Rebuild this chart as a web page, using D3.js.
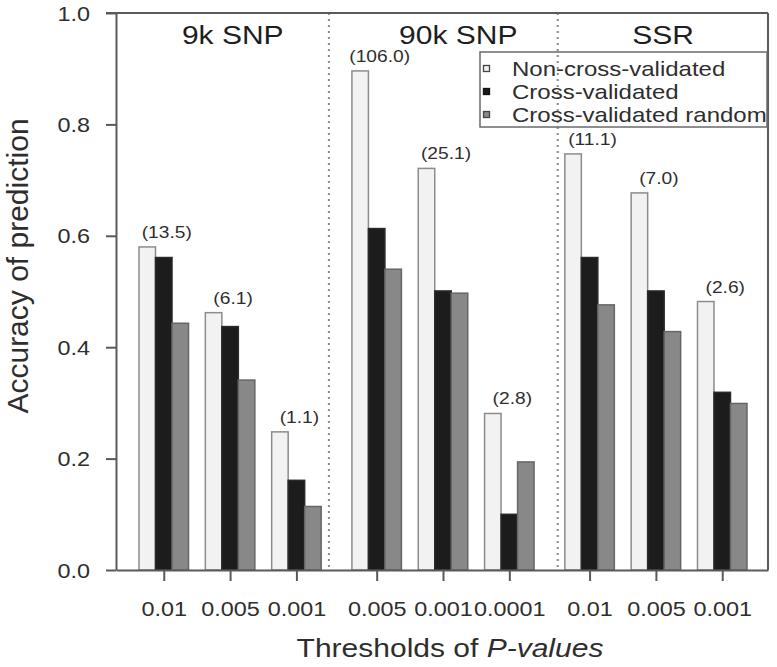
<!DOCTYPE html>
<html>
<head>
<meta charset="utf-8">
<script src="https://cdn.jsdelivr.net/npm/d3@7"></script>
<style>
  html, body { margin: 0; padding: 0; background: #ffffff; }
  svg { display: block; font-family: "Liberation Sans", Arial, sans-serif; }
</style>
</head>
<body>
<svg id="chart" width="777" height="667"></svg>
<script>
// ---------------- data ----------------
const groups = ["9k SNP", "90k SNP", "SSR"];
const thresholds = ["0.01", "0.005", "0.001", "0.005", "0.001", "0.0001", "0.01", "0.005", "0.001"];
const groupOf = [0, 0, 0, 1, 1, 1, 2, 2, 2];
const nonCrossValidated = [0.580, 0.462, 0.248, 0.896, 0.721, 0.281, 0.747, 0.677, 0.482];
const crossValidated = [0.561, 0.437, 0.161, 0.613, 0.501, 0.100, 0.561, 0.501, 0.319];
const crossValidatedRandom = [0.443, 0.341, 0.114, 0.540, 0.497, 0.194, 0.476, 0.428, 0.299];
const markerCounts = ["(13.5)", "(6.1)", "(1.1)", "(106.0)", "(25.1)", "(2.8)", "(11.1)", "(7.0)", "(2.6)"];
const seriesNames = ["Non-cross-validated", "Cross-validated", "Cross-validated random"];
const yTicks = [0.0, 0.2, 0.4, 0.6, 0.8, 1.0];

// ---------------- layout ----------------
const svg = d3.select("#chart");
const pLeft = 116, pRight = 768, pTop = 13, pBottom = 570;
const groupGap = 0.21;
const slot = thresholds.map((d, i) => i + groupOf[i] * groupGap);
const x = d3.scaleLinear().domain([-0.72, 9.11]).range([pLeft, pRight]);
const y = d3.scaleLinear().domain([0, 1]).range([pBottom, pTop]);
const barW = 16.5;
const stretch = 1.2;
const textColor = "#2e2e2e";
const axisColor = "#5a5a5a";

const series = [
  { values: nonCrossValidated, fill: "#f2f2f2", stroke: "#8c8c8c", offset: -1, mark: "#444" },
  { values: crossValidated, fill: "#1c1c1c", stroke: "#2a2a2a", offset: 0, mark: "#111" },
  { values: crossValidatedRandom, fill: "#888888", stroke: "#666666", offset: 1, mark: "#444" }
];

// dotted dividers between panels
const dividerSlots = [2.49, 5.94];
svg.selectAll("line.divider").data(dividerSlots).enter().append("line")
  .attr("class", "divider")
  .attr("x1", d => x(d)).attr("x2", d => x(d))
  .attr("y1", pTop).attr("y2", pBottom)
  .attr("stroke", "#8a8a8a").attr("stroke-width", 2)
  .attr("stroke-dasharray", "2,4");

// bars
series.forEach(s => {
  svg.append("g").selectAll("rect").data(s.values).enter().append("rect")
    .attr("x", (d, i) => x(slot[i]) + s.offset * barW - barW / 2)
    .attr("y", d => y(d))
    .attr("width", barW)
    .attr("height", d => y(0) - y(d))
    .attr("fill", s.fill)
    .attr("stroke", s.stroke)
    .attr("stroke-width", 1.5);
});

// count labels above white bars
svg.append("g").selectAll("text").data(markerCounts).enter().append("text")
  .attr("transform", (d, i) => `translate(${x(slot[i]) + 3},${y(nonCrossValidated[i]) - 9}) scale(${stretch},1)`)
  .attr("text-anchor", "middle")
  .attr("font-size", 16)
  .attr("fill", textColor)
  .text(d => d);

// y axis
const yAxis = svg.append("g")
  .attr("transform", `translate(${pLeft},0)`)
  .call(d3.axisLeft(y).tickValues(yTicks).tickFormat(d3.format(".1f")).tickSize(10).tickSizeOuter(0));
yAxis.select(".domain").attr("stroke", axisColor).attr("stroke-width", 2);
yAxis.selectAll(".tick line").attr("stroke", axisColor).attr("stroke-width", 2);
yAxis.selectAll(".tick text")
  .attr("x", null).attr("dy", null)
  .attr("transform", `translate(-26,7) scale(${stretch},1)`)
  .attr("text-anchor", "end")
  .attr("font-size", 19.5)
  .attr("fill", textColor);

// x axis
const xAxis = svg.append("g")
  .attr("transform", `translate(0,${pBottom})`)
  .call(d3.axisBottom(x).tickValues(slot).tickFormat((d, i) => thresholds[i]).tickSize(11).tickSizeOuter(0));
xAxis.select(".domain").attr("stroke", axisColor).attr("stroke-width", 2);
xAxis.selectAll(".tick line").attr("stroke", axisColor).attr("stroke-width", 2);
xAxis.selectAll(".tick text")
  .attr("y", null).attr("dy", null)
  .attr("transform", `translate(0,46) scale(${stretch},1)`)
  .attr("text-anchor", "middle")
  .attr("font-size", 19.5)
  .attr("fill", textColor);

// frame top / right
svg.append("line").attr("x1", pLeft - 10).attr("x2", pRight).attr("y1", pTop).attr("y2", pTop)
  .attr("stroke", axisColor).attr("stroke-width", 2);
svg.append("line").attr("x1", pRight).attr("x2", pRight).attr("y1", pTop).attr("y2", pBottom)
  .attr("stroke", axisColor).attr("stroke-width", 2);

// panel titles
const titleSlots = [1.04, 4.44, 7.53];
svg.append("g").selectAll("text").data(groups).enter().append("text")
  .attr("transform", (d, i) => `translate(${x(titleSlots[i])},44) scale(${stretch},1)`)
  .attr("text-anchor", "middle")
  .attr("font-size", 25)
  .attr("fill", "#1e1e1e")
  .text(d => d);

// legend
const lg = svg.append("g");
lg.append("rect").attr("x", 480).attr("y", 52).attr("width", 287).attr("height", 75)
  .attr("fill", "none").attr("stroke", "#6a6a6a").attr("stroke-width", 1.5);
seriesNames.forEach((name, i) => {
  const cy = 69 + i * 23;
  lg.append("rect").attr("x", 483.5).attr("y", cy - 3.5).attr("width", 6).attr("height", 6)
    .attr("fill", series[i].fill).attr("stroke", series[i].mark)
    .attr("stroke-width", 1.3);
  lg.append("text")
    .attr("transform", `translate(512,${cy + 7}) scale(${stretch},1)`)
    .attr("font-size", 20)
    .attr("fill", textColor)
    .text(name);
});

// axis titles
const xt = svg.append("text")
  .attr("transform", `translate(450,657) scale(${stretch},1)`)
  .attr("text-anchor", "middle")
  .attr("font-size", 25)
  .attr("fill", textColor);
xt.append("tspan").text("Thresholds of ");
xt.append("tspan").attr("font-style", "italic").text("P-values");

svg.append("text")
  .attr("transform", "translate(28,266) rotate(-90)")
  .attr("text-anchor", "middle")
  .attr("font-size", 30)
  .attr("fill", textColor)
  .text("Accuracy of prediction");
</script>
</body>
</html>
